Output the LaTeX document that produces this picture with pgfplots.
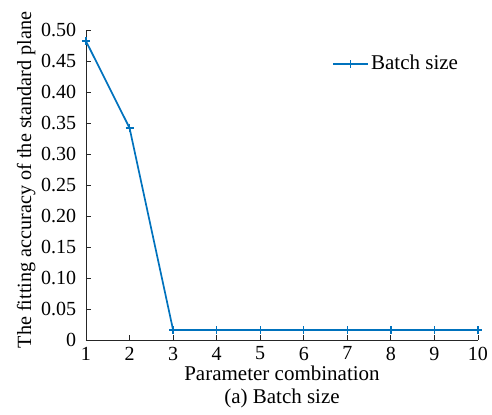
\documentclass[border=0pt]{standalone}
\usepackage{pgfplots}
\pgfplotsset{compat=1.18}
\usepackage{fontspec}
\setmainfont{Liberation Serif}
\definecolor{mblue}{rgb}{0,0.447,0.741}
\begin{document}
\fontsize{20bp}{24bp}\selectfont
\begin{tikzpicture}
\begin{axis}[
  scale only axis,
  width=392bp, height=310bp,
  xmin=1, xmax=10, ymin=0, ymax=0.5,
  axis x line=bottom, axis y line=left,
  axis line style={-, line width=0.9pt, black!85},
  tick align=inside,
  major tick length=5bp,
  tick style={black!85, line width=0.9pt},
  xtick={1,...,10},
  ytick={0,0.05,0.10,0.15,0.20,0.25,0.30,0.35,0.40,0.45,0.50},
  yticklabels={0,0.05,0.10,0.15,0.20,0.25,0.30,0.35,0.40,0.45,0.50},
  /pgf/number format/assume math mode=true,
  ticklabel style={font=\fontsize{20bp}{24bp}\selectfont},
  yticklabel style={xshift=-3bp},
  xticklabel style={yshift=0bp},
  xlabel={Parameter combination\\(a) Batch size},
  xlabel style={align=center, font=\fontsize{21bp}{23bp}\selectfont, yshift=8bp},
  ylabel={The fitting accuracy of the standard plane},
  ylabel style={font=\fontsize{20.2bp}{24bp}\selectfont, yshift=-8bp, xshift=5bp},
  legend style={draw=none, fill=none, at={(0.623,0.89)}, anchor=west,
    font=\fontsize{21bp}{24bp}\selectfont, inner sep=2bp},
  legend cell align=left,
  legend image code/.code={\draw[#1] (0bp,0bp) -- (35bp,0bp); \draw[#1, mark=+, mark repeat=1] plot coordinates {(17.5bp,0bp)};},
]
\addplot[color=mblue, line width=1.7pt, mark=+, mark size=4bp, mark options={line width=1.4pt}]
  coordinates {
    (1,0.482) (2,0.342) (3,0.016) (4,0.016) (5,0.016)
    (6,0.016) (7,0.016) (8,0.016) (9,0.016) (10,0.016)
  };
\addlegendentry{Batch size}
\end{axis}
\pgfresetboundingbox
\path[use as bounding box] (current axis.south west) ++(-86bp,-75bp) rectangle ++(492bp,415bp);
\end{tikzpicture}
\end{document}
